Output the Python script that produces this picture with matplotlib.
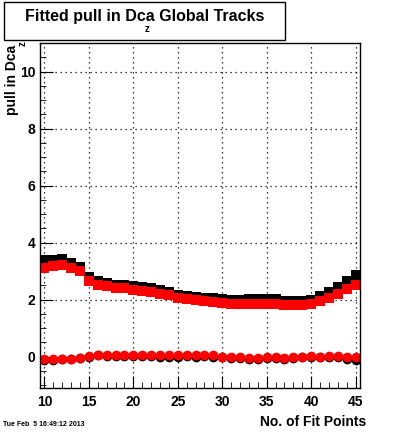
import numpy as np
import matplotlib.pyplot as plt
from matplotlib.ticker import MultipleLocator

plt.rcParams['font.family'] = ['Liberation Sans', 'DejaVu Sans']
plt.rcParams['font.weight'] = 'bold'

# fit points 10..45
fit_points = np.arange(10, 46)

# sigma (squares) - black and red sets
sigma_black = [3.38, 3.40, 3.42, 3.30, 3.14, 2.78, 2.66, 2.60, 2.53, 2.52, 2.48, 2.43, 2.39, 2.32, 2.25,
               2.17, 2.12, 2.09, 2.07, 2.04, 2.02, 2.00, 1.99, 2.01, 2.01, 2.01, 2.01, 1.95, 1.94, 1.94,
               2.00, 2.11, 2.26, 2.43, 2.64, 2.85]
sigma_red = [3.12, 3.17, 3.22, 3.12, 3.01, 2.64, 2.52, 2.47, 2.41, 2.40, 2.34, 2.29, 2.25, 2.20, 2.15,
             2.07, 2.02, 1.99, 1.96, 1.93, 1.89, 1.86, 1.84, 1.83, 1.83, 1.83, 1.83, 1.80, 1.80, 1.80,
             1.86, 1.95, 2.07, 2.21, 2.37, 2.53]

# mean (circles)
mean_black = [-0.11, -0.11, -0.10, -0.10, -0.06, 0.0, 0.04, 0.03, 0.03, 0.03, 0.02, 0.02, 0.01, 0.0, 0.0,
              0.0, 0.01, 0.0, 0.01, 0.0, -0.03, -0.05, -0.06, -0.07, -0.07, -0.06, -0.05, -0.07, -0.05, -0.03,
              -0.02, -0.03, -0.02, -0.03, -0.07, -0.13]
mean_red = [-0.10, -0.10, -0.09, -0.09, -0.05, 0.02, 0.06, 0.05, 0.05, 0.05, 0.05, 0.05, 0.07, 0.05, 0.04,
            0.04, 0.04, 0.04, 0.05, 0.04, 0.0, -0.02, -0.03, -0.04, -0.05, -0.03, -0.02, -0.04, -0.02, 0.0,
            0.01, 0.0, 0.01, 0.01, 0.0, -0.03]

fig = plt.figure(figsize=(4.0, 4.33), dpi=100)
ax = fig.add_axes([0.1, 1 - 388 / 433, 0.8, (388 - 43) / 433])

ax.plot(fit_points, sigma_black, 's', color='black', markersize=6.6, markeredgewidth=0)
ax.plot(fit_points, sigma_red, 's', color='red', markersize=6.6, markeredgewidth=0)
ax.plot(fit_points, mean_black, 'o', color='black', markersize=7, markeredgewidth=0)
ax.plot(fit_points, mean_red, 'o', color='red', markersize=7, markeredgewidth=0)

ax.set_xlim(9.5, 45.5)
ax.set_ylim(-1.1, 11)
ax.xaxis.set_major_locator(MultipleLocator(5))
ax.xaxis.set_minor_locator(MultipleLocator(1))
ax.yaxis.set_major_locator(MultipleLocator(2))
ax.yaxis.set_minor_locator(MultipleLocator(0.5))
ax.tick_params(which='both', direction='in', top=False, right=False, labelsize=10)
ax.tick_params(which='major', length=9)
ax.tick_params(which='minor', length=4.5)
ax.tick_params(axis='x', pad=5)
ax.grid(True, which='major', linestyle=(0, (1, 3)), color='black', linewidth=0.9)
ax.set_axisbelow(True)
for s in ax.spines.values():
    s.set_linewidth(1.0)

# title box
fig.patches.append(plt.Rectangle((4 / 400, 1 - 40 / 433), 281 / 400, 38 / 433,
                                 transform=fig.transFigure, fill=False,
                                 edgecolor='black', linewidth=1.0))
fig.text(145 / 400, 1 - 17 / 433, 'Fitted pull in Dca Global Tracks', ha='center', va='center',
         fontsize=11.5, fontweight='bold')
fig.text(147 / 400, 1 - 29 / 433, 'z', ha='center', va='center', fontsize=7, fontweight='bold')

# y axis label
fig.text(12 / 400, 1 - 80 / 433, 'pull in Dca', rotation=90, ha='center', va='center',
         fontsize=10, fontweight='bold')
fig.text(23 / 400, 1 - 44 / 433, 'z', rotation=90, ha='center', va='center',
         fontsize=7, fontweight='bold')

# x axis label
fig.text(366 / 400, 1 - 422 / 433, 'No. of Fit Points', ha='right', va='center',
         fontsize=10, fontweight='bold')

fig.text(3 / 400, 1 - 425 / 433, 'Tue Feb  5 16:49:12 2013', ha='left', va='center',
         fontsize=5, fontweight='bold')

fig.savefig('out.png', dpi=100)
